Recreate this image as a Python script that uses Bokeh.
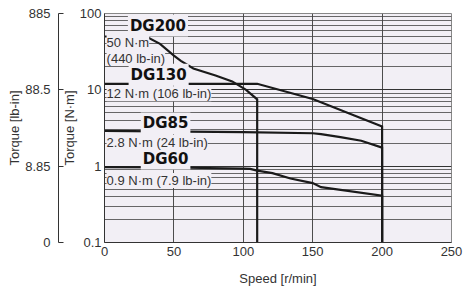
from bokeh.plotting import figure
from bokeh.models import (LogAxis, FixedTicker, Range1d, ColumnDataSource)
from bokeh.core.properties import value
from bokeh.embed import file_html
from bokeh.resources import INLINE

# ---- data ----
dg200_speed = [0, 30, 40, 50, 55, 64, 80, 92, 102, 110, 110]
dg200_torque = [50, 50, 40, 28, 24, 19, 15.4, 12.9, 10, 7.5, 0.1]

dg130_speed = [0, 110, 150, 180, 200, 200]
dg130_torque = [12, 12, 7.6, 4.6, 3.3, 0.1]

dg85_speed = [0, 100, 150, 156, 170, 185, 200, 200]
dg85_torque = [2.9, 2.8, 2.7, 2.63, 2.4, 2.15, 1.75, 0.1]

dg60_speed = [0, 50, 100, 105, 110, 121, 134, 150, 156, 200, 200]
dg60_torque = [0.97, 0.96, 0.93, 0.92, 0.875, 0.81, 0.69, 0.60, 0.53, 0.41, 0.1]

model_names = ["DG200", "DG130", "DG85", "DG60"]
rating_texts = ["50 N·m", "(440 lb-in)", "12 N·m (106 lb-in)",
                "2.8 N·m (24 lb-in)", "0.9 N·m (7.9 lb-in)"]

x_ticks = [0, 50, 100, 150, 200, 250]
nm_ticks = [0.1, 1, 10, 100]
nm_tick_labels = ["0.1", "1", "10", "100"]
lbin_tick_labels = ["0", "8.85", "88.5", "885"]

# ---- styling / positions ----
FONT = "Liberation Sans"
FS = "13px"
BG = "#f2eff5"
TXT = "#333333"

minor = []
for dec in [0.1, 1, 10]:
    minor += [dec * k for k in range(2, 10)]

p = figure(width=463, height=288, x_range=Range1d(0, 250),
           y_range=Range1d(0.1, 100), y_axis_type="log",
           output_backend="svg", toolbar_location=None,
           min_border_left=104, min_border_top=13, min_border_right=12,
           min_border_bottom=0, background_fill_color=BG,
           border_fill_color="white", outline_line_color="#888888")

# x axis
xa = p.xaxis[0]
xa.ticker = FixedTicker(ticks=x_ticks)
xa.major_tick_out = 0
xa.major_tick_in = 0
xa.minor_tick_out = 0
xa.minor_tick_in = 0
xa.axis_line_color = "#333333"
xa.major_label_text_font = FONT
xa.major_label_text_font_size = FS
xa.major_label_text_color = TXT
xa.major_label_standoff = 4
xa.axis_label = "Speed [r/min]"
xa.axis_label_text_font = FONT
xa.axis_label_text_font_size = FS
xa.axis_label_text_font_style = "normal"
xa.axis_label_text_color = TXT
xa.axis_label_standoff = 12

# inner y axis (N·m)
ya = p.yaxis[0]
ya.ticker = FixedTicker(ticks=nm_ticks, minor_ticks=minor)
ya.major_label_overrides = dict(zip(nm_ticks, nm_tick_labels))
ya.major_tick_out = 0
ya.major_tick_in = 0
ya.minor_tick_out = 0
ya.minor_tick_in = 0
ya.axis_line_color = "#333333"
ya.major_label_text_font = FONT
ya.major_label_text_font_size = FS
ya.major_label_text_color = TXT
ya.major_label_standoff = 3
ya.axis_label = "Torque [N·m]"
ya.axis_label_text_font = FONT
ya.axis_label_text_font_size = FS
ya.axis_label_text_font_style = "normal"
ya.axis_label_text_color = TXT
ya.axis_label_standoff = 0

# outer y axis (lb-in)
yb = LogAxis(ticker=FixedTicker(ticks=nm_ticks, minor_ticks=[]))
yb.major_label_overrides = dict(zip(nm_ticks, lbin_tick_labels))
yb.major_tick_out = 0
yb.major_tick_in = 5
yb.minor_tick_out = 0
yb.minor_tick_in = 0
yb.axis_line_color = "#333333"
yb.major_tick_line_color = "#333333"
yb.major_label_text_font = FONT
yb.major_label_text_font_size = FS
yb.major_label_text_color = TXT
yb.major_label_standoff = 8
yb.axis_label = "Torque [lb-in]"
yb.axis_label_text_font = FONT
yb.axis_label_text_font_size = FS
yb.axis_label_text_font_style = "normal"
yb.axis_label_text_color = TXT
yb.axis_label_standoff = 0
p.add_layout(yb, "left")

# grids
p.xgrid.ticker = FixedTicker(ticks=x_ticks)
p.xgrid.grid_line_color = "#4d4d4d"
p.xgrid.grid_line_width = 1
p.ygrid.ticker = FixedTicker(ticks=nm_ticks, minor_ticks=minor)
p.ygrid.grid_line_color = "#333333"
p.ygrid.minor_grid_line_color = "#444444"
p.ygrid.minor_grid_line_alpha = 0.8

# curves
for xs, ys in [(dg200_speed, dg200_torque), (dg130_speed, dg130_torque),
               (dg85_speed, dg85_torque), (dg60_speed, dg60_torque)]:
    p.line(xs, ys, line_color="#1a1a1a", line_width=2.2, line_join="miter")

# labels
name_src = ColumnDataSource(dict(x=[38.5, 39, 44, 44],
                                 y=[69.6, 15.8, 3.63, 1.26],
                                 text=model_names))
p.text(x="x", y="y", text="text", source=name_src,
       text_align="center", text_baseline="middle",
       text_font=value("DejaVu Sans"), text_font_style="bold",
       text_font_size="15px", text_color="#111111",
       background_fill_color=BG, padding=2)

rate_src = ColumnDataSource(dict(x=[1.5] * 5,
                                 y=[41.7, 25.7, 8.9, 2.04, 0.65],
                                 text=rating_texts))
p.text(x="x", y="y", text="text", source=rate_src,
       text_align="left", text_baseline="middle",
       text_font=value(FONT), text_font_size=FS,
       text_color=TXT, background_fill_color=BG)

open("out.html", "w").write(file_html(p, INLINE))
